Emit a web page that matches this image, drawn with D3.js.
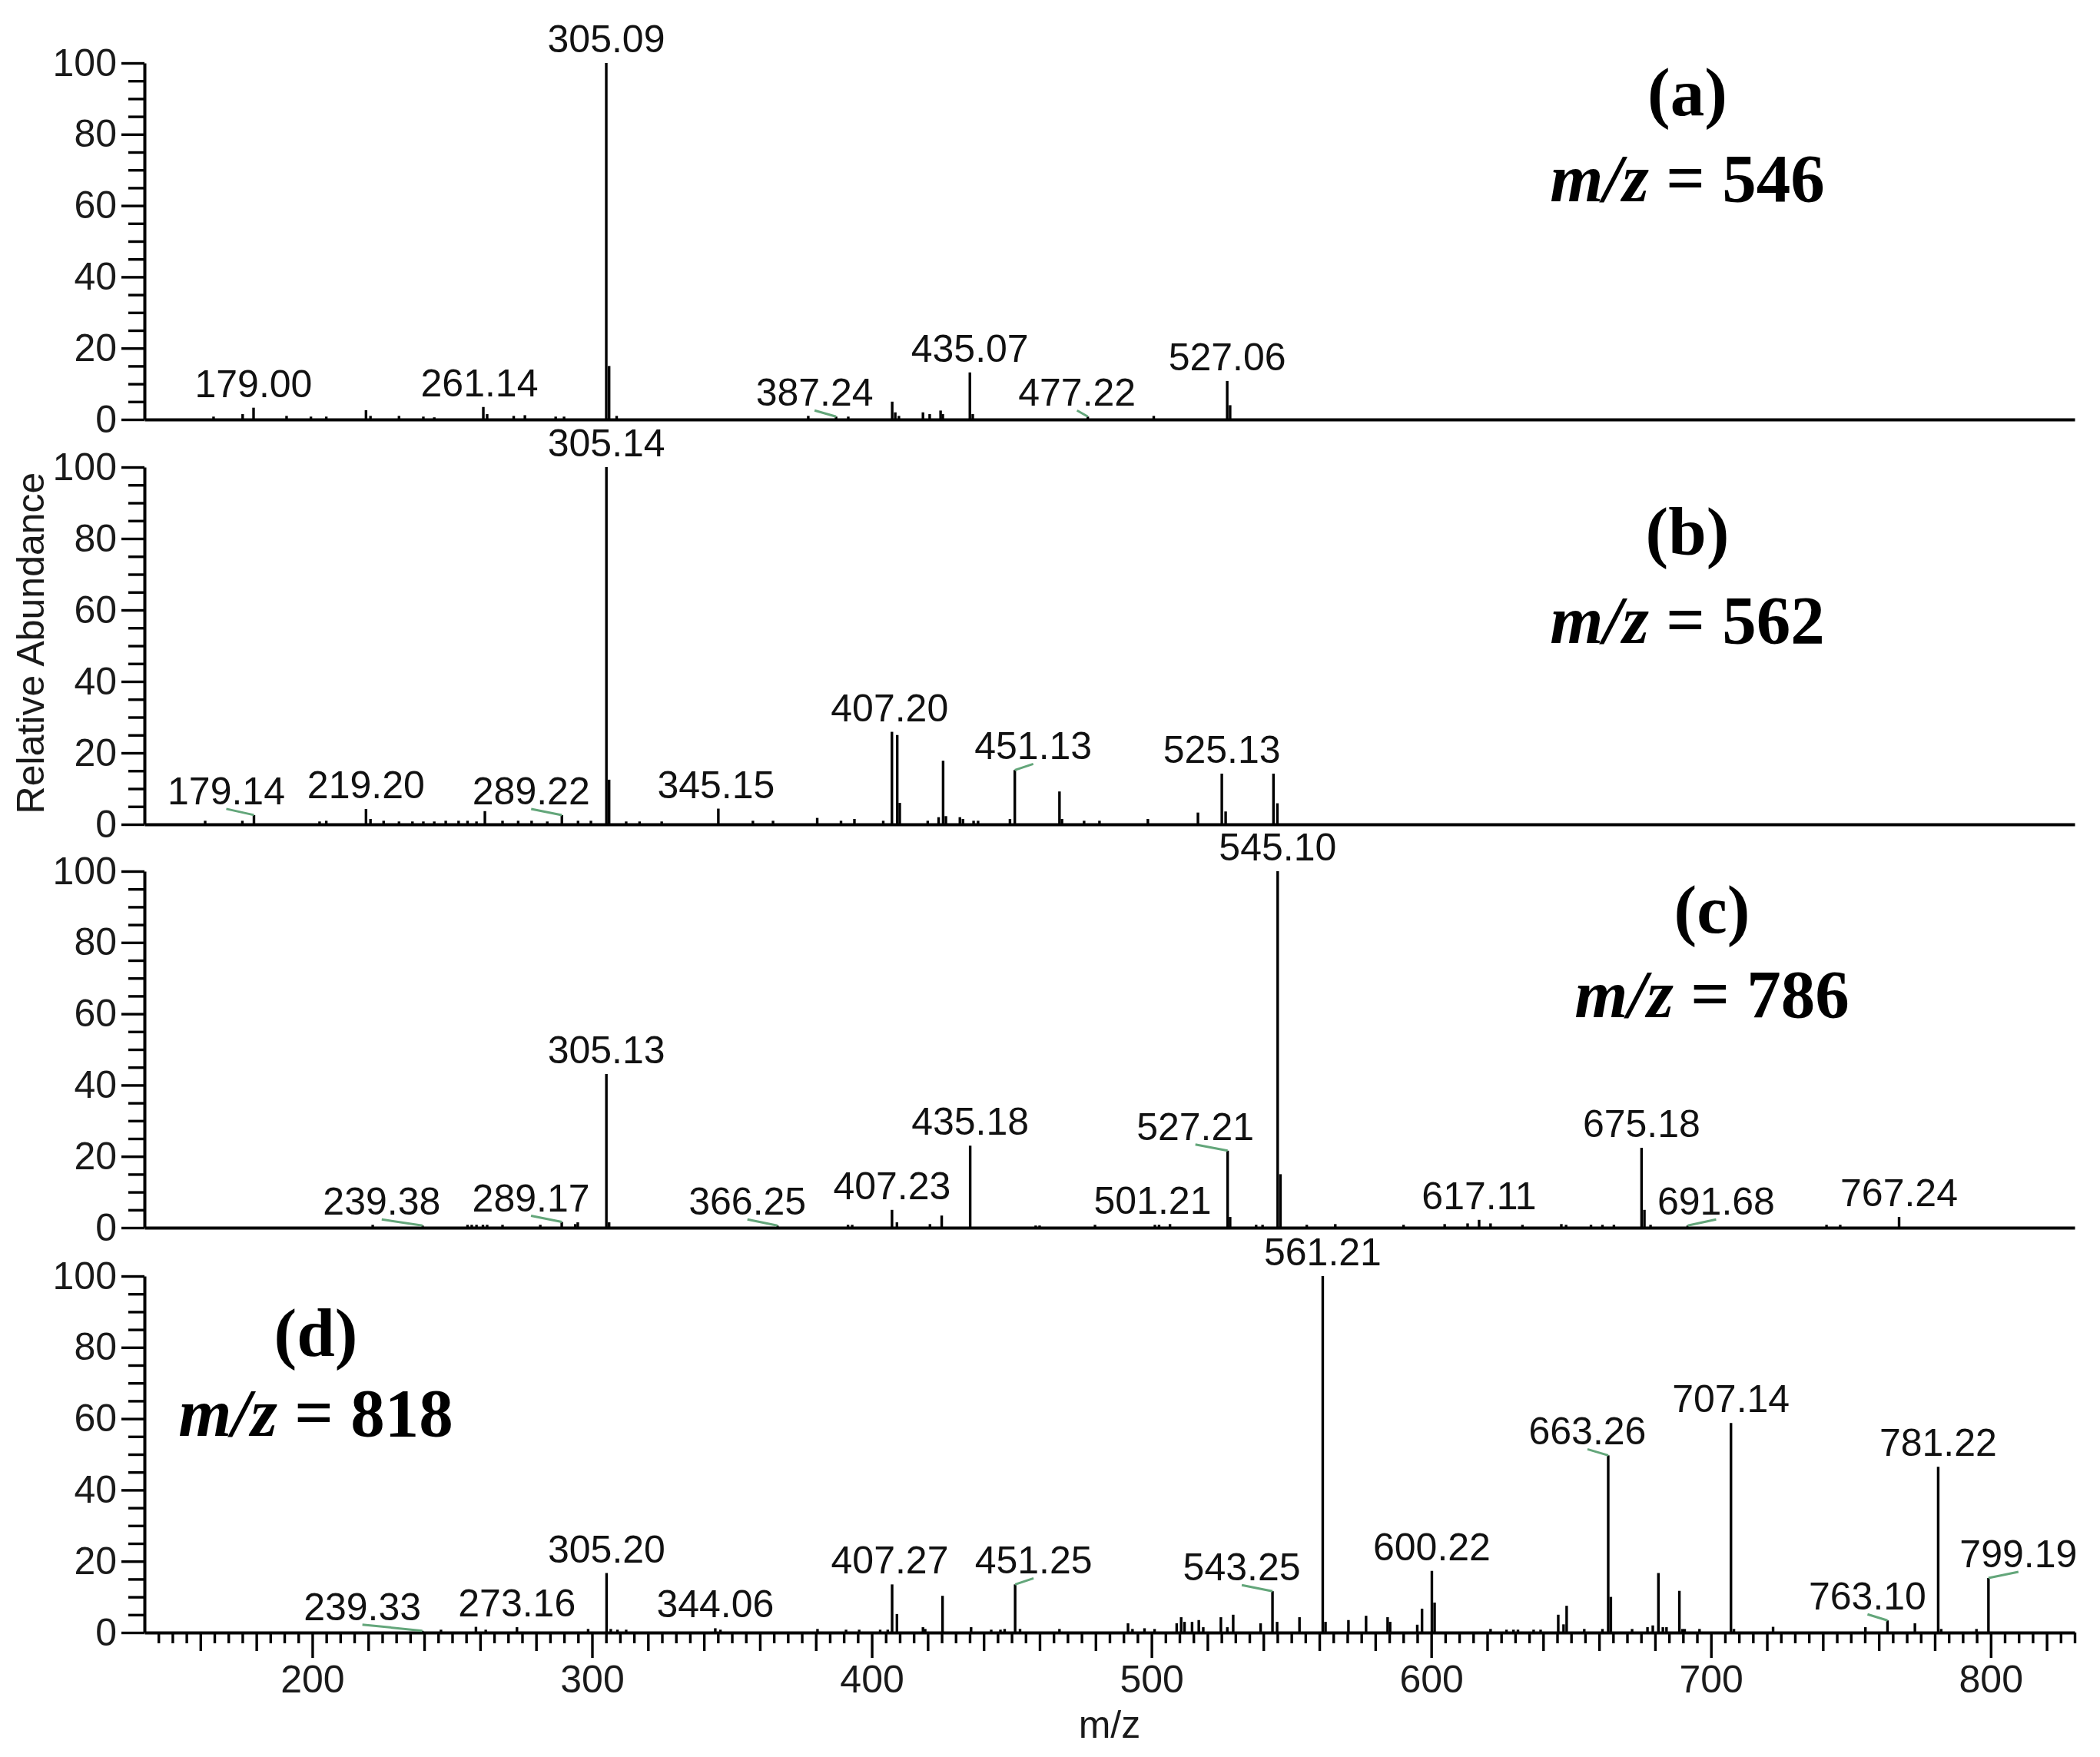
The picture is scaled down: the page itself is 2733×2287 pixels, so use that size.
<!DOCTYPE html>
<html><head><meta charset="utf-8">
<script src="https://cdn.jsdelivr.net/npm/d3@7"></script>
<style>body{margin:0;background:#fff}</style>
</head><body>
<svg id="chart" width="2733" height="2287"></svg>
<script>
// ---------------- DATA ----------------
const panelTags = ["(a)", "(b)", "(c)", "(d)"];
const precursorMz = ["546", "562", "786", "818"];
const yTickValues = [0, 20, 40, 60, 80, 100];
const xTickLabels = [200, 300, 400, 500, 600, 700, 800];
const xDomain = [140, 830];
const yAxisTitle = "Relative Abundance";
const xAxisTitle = "m/z";

// (a) m/z = 546
const mzA = [164.7,175.1,179.00,190.8,199.5,205.0,219.2,220.8,231.0,239.7,243.6,261.14,262.5,272.0,276.0,287.0,290.0,
  305.09,306.1,308.8,377.3,387.24,391.6,407.3,408.4,409.7,418.3,420.7,424.6,425.4,435.07,436.1,477.22,500.8,527.06,528.1];
const intA = [0.8,1.5,3.3,1.0,0.8,0.8,2.6,1.0,1.0,0.8,0.6,3.5,1.5,1.0,1.2,0.8,0.8,
  100,15,1.0,1.0,0.8,0.8,5.0,2.0,1.0,2.0,1.5,2.5,1.5,13.2,1.5,0.8,1.0,10.8,4.0];
const labelsA = [179.00,261.14,305.09,387.24,435.07,477.22,527.06];

// (b) m/z = 562
const mzB = [161.7,175.0,179.14,202.6,205.0,219.20,220.8,225.5,231.0,235.8,239.7,243.6,247.7,252.3,255.5,258.7,261.7,268.0,
  273.6,278.4,284.0,289.22,295.0,299.6,305.14,306.1,312.2,317.0,324.9,345.15,357.5,364.7,380.5,389.0,393.8,404.1,
  407.20,409.1,410.0,420.0,423.9,425.5,426.5,431.5,432.6,436.4,438.0,449.4,451.13,467.1,468.0,475.9,481.4,498.7,
  516.6,525.13,526.5,543.6,545.0];
const intB = [1.0,1.0,2.6,0.8,1.0,4.3,1.5,1.0,0.8,0.8,0.8,0.8,1.0,1.0,1.0,0.8,3.7,1.0,
  1.0,1.0,0.8,2.6,1.0,1.0,100,12.5,0.8,0.8,0.8,4.4,1.0,1.0,1.8,1.0,1.5,1.0,
  25.9,25.0,6.0,1.0,2.0,17.8,2.3,2.0,1.5,1.0,1.0,1.5,15.2,9.2,1.5,1.0,1.0,1.5,
  3.3,14.2,3.6,14.2,5.9];
const labelsB = [179.14,219.20,289.22,305.14,345.15,407.20,451.13,525.13];

// (c) m/z = 786
const mzC = [221.6,239.38,255.5,257.0,258.7,261.0,262.5,268.0,281.5,289.17,294.0,294.9,305.13,306.1,366.25,391.5,393.0,
  407.23,409.0,420.8,425.0,435.18,458.6,460.0,479.8,501.21,502.7,506.6,527.21,528.1,537.4,539.7,545.10,546.1,555.5,
  565.7,590.1,604.8,613.0,617.11,621.2,632.6,646.5,648.2,657.1,661.2,665.3,675.18,676.2,678.4,691.68,741.3,746.2,767.24];
const intC = [0.8,0.6,0.8,0.8,0.8,0.8,0.8,0.8,0.8,1.6,1.0,1.5,43.1,1.5,0.6,0.8,0.8,
  5.0,1.5,1.0,3.4,23.0,0.6,0.6,0.8,0.8,0.8,1.0,21.6,3.0,0.8,0.8,100,15,0.8,
  1.0,0.8,1.0,1.2,2.2,1.2,0.8,1.0,0.8,0.8,0.8,0.8,22.4,5.0,0.8,0.6,0.8,0.8,3.0];
const labelsC = [239.38,289.17,305.13,366.25,407.23,435.18,501.21,527.21,545.10,617.11,675.18,691.68,767.24];

// (d) m/z = 818
const mzD = [239.33,246.0,258.5,262.0,273.16,298.6,305.20,306.7,309.1,312.2,344.06,345.9,380.6,390.8,395.5,403.0,405.7,
  407.27,409.0,418.3,419.1,425.3,435.5,442.7,446.0,447.5,451.25,453.0,467.1,491.6,493.2,497.5,501.1,509.0,510.6,511.8,
  514.5,516.9,518.5,524.8,527.1,529.2,539.0,543.25,544.9,552.9,561.21,562.2,570.4,576.7,584.4,585.3,595.0,596.7,
  600.22,601.2,621.2,626.9,629.4,631.0,636.6,639.1,645.4,647.3,648.4,654.7,661.2,663.26,664.2,671.8,677.3,679.2,
  681.2,682.8,684.1,688.7,689.8,690.6,695.9,707.14,708.2,722.2,755.2,763.10,772.9,781.22,782.3,794.9,799.19];
const intD = [0.5,0.8,1.6,0.8,1.5,1.0,16.7,1.0,0.8,0.8,1.2,0.8,1.0,0.8,0.8,0.8,0.8,
  13.5,5.2,1.5,1.0,10.3,1.5,0.8,0.8,1.0,13.5,1.0,1.0,2.6,1.0,1.2,1.0,2.6,4.3,3.0,
  3.0,3.5,1.5,4.3,1.5,5.0,2.6,11.6,3.0,4.3,100,3.0,3.5,4.7,4.3,3.0,2.2,6.7,
  17.3,8.4,1.0,0.8,0.8,0.8,0.8,0.8,5.0,2.3,7.5,1.0,1.0,49.7,10.0,1.0,1.5,2.0,
  16.7,1.5,1.5,11.7,1.0,1.0,1.0,58.8,1.0,1.6,1.5,3.4,2.6,46.5,1.0,1.0,15.3];
const labelsD = [239.33,273.16,305.20,344.06,407.27,451.25,543.25,561.21,600.22,663.26,707.14,763.10,781.22,799.19];

// ---------------- LAYOUT / STYLE ----------------
const FONT = "'Liberation Sans', Arial, sans-serif";
const SERIF = "'Liberation Serif', 'Times New Roman', serif";
const plotLeft = 188, plotRight = 2700;
const panels = [
  {mz: mzA, it: intA, labels: labelsA, top: 82,   bottom: 546,  tagX: 2196, tagY: 150,  precY: 262},
  {mz: mzB, it: intB, labels: labelsB, top: 608,  bottom: 1073, tagX: 2196, tagY: 722,  precY: 837},
  {mz: mzC, it: intC, labels: labelsC, top: 1134, bottom: 1598, tagX: 2228, tagY: 1214, precY: 1324},
  {mz: mzD, it: intD, labels: labelsD, top: 1661, bottom: 2125, tagX: 411,  tagY: 1765, precY: 1869}
];
// horizontal label shifts (px) and whether a leader line is drawn
const labelShift = [
  {"261.14": [-5, false], "387.24": [-28, true], "477.22": [-14, true]},
  {"179.14": [-36, true], "289.22": [-40, true], "345.15": [-3, false], "407.20": [-3, false], "451.13": [24, true]},
  {"239.38": [-53, true], "289.17": [-40, true], "366.25": [-39, true], "501.21": [-3, false], "527.21": [-42, true], "691.68": [37, true]},
  {"239.33": [-78, true], "407.27": [-3, false], "451.25": [24, true], "543.25": [-40, true], "663.26": [-27, true], "763.10": [-26, true], "799.19": [39, true]}
];

const svg = d3.select("#chart");
svg.append("rect").attr("width", 2733).attr("height", 2287).attr("fill", "#fff");
const x = d3.scaleLinear().domain(xDomain).range([plotLeft, plotRight]);

panels.forEach((p, i) => {
  const y = d3.scaleLinear().domain([0, 100]).range([p.bottom, p.top]);
  const g = svg.append("g");

  // minor y ticks
  const minor = d3.range(0, 101, 5).filter(v => v % 20 !== 0);
  g.append("g").attr("transform", `translate(${plotLeft},0)`)
    .call(d3.axisLeft(y).tickValues(minor).tickSize(21).tickFormat("").tickSizeOuter(0))
    .call(a => a.select(".domain").remove())
    .call(a => a.selectAll("line").attr("stroke", "#000").attr("stroke-width", 3.4));
  // major y ticks + labels
  g.append("g").attr("transform", `translate(${plotLeft},0)`)
    .call(d3.axisLeft(y).tickValues(yTickValues).tickSize(30).tickPadding(6).tickSizeOuter(0))
    .call(a => a.select(".domain").attr("stroke", "#000").attr("stroke-width", 4))
    .call(a => a.selectAll("line").attr("stroke", "#000").attr("stroke-width", 3.4))
    .call(a => a.selectAll("text").attr("font-family", FONT).attr("font-size", 50).attr("fill", "#1a1a1a"));

  // x axis
  const xa = g.append("g").attr("transform", `translate(0,${p.bottom})`);
  if (i < 3) {
    xa.call(d3.axisBottom(x).tickValues([]).tickSizeOuter(0));
  } else {
    const small = d3.range(145, 831, 5).filter(v => v % 20 !== 0);
    const mid = d3.range(160, 831, 20).filter(v => v % 100 !== 0);
    xa.call(d3.axisBottom(x).tickValues(small).tickSize(14).tickFormat("").tickSizeOuter(0));
    xa.append("g").call(d3.axisBottom(x).tickValues(mid).tickSize(24).tickFormat("").tickSizeOuter(0))
      .call(a => a.select(".domain").remove());
    xa.append("g").call(d3.axisBottom(x).tickValues(xTickLabels).tickSize(33).tickPadding(9.5).tickSizeOuter(0))
      .call(a => a.select(".domain").remove())
      .call(a => a.selectAll("text").attr("font-family", FONT).attr("font-size", 50).attr("fill", "#1a1a1a"));
  }
  xa.select(".domain").attr("stroke", "#000").attr("stroke-width", 4);
  xa.selectAll("line").attr("stroke", "#000").attr("stroke-width", 3.4);

  // peaks
  const peaks = p.mz.map((m, k) => ({m, v: p.it[k]}));
  g.append("g").selectAll("line").data(peaks).join("line")
    .attr("x1", d => x(d.m)).attr("x2", d => x(d.m))
    .attr("y1", y(0)).attr("y2", d => y(d.v))
    .attr("stroke", "#000").attr("stroke-width", 3.4);

  // labels
  const lab = p.labels.map(m => {
    const k = p.mz.indexOf(m);
    const key = m.toFixed(2);
    const s = labelShift[i][key] || [0, false];
    return {m, v: p.it[k], text: key, dx: s[0], lead: s[1]};
  });
  g.append("g").selectAll("line").data(lab.filter(d => d.lead)).join("line")
    .attr("x1", d => x(d.m) + d.dx).attr("y1", d => y(d.v) - 8)
    .attr("x2", d => x(d.m)).attr("y2", d => y(d.v))
    .attr("stroke", "#63a67a").attr("stroke-width", 3);
  g.append("g").selectAll("text").data(lab).join("text")
    .attr("x", d => x(d.m) + d.dx).attr("y", d => y(d.v) - 14)
    .attr("text-anchor", "middle")
    .attr("font-family", FONT).attr("font-size", 50).attr("fill", "#111")
    .text(d => d.text);

  // panel tag and precursor
  g.append("text").attr("x", p.tagX).attr("y", p.tagY).attr("text-anchor", "middle")
    .attr("font-family", SERIF).attr("font-weight", "bold").attr("font-size", 89).attr("fill", "#000")
    .text(panelTags[i]);
  const t = g.append("text").attr("x", p.tagX).attr("y", p.precY).attr("text-anchor", "middle")
    .attr("font-family", SERIF).attr("font-weight", "bold").attr("font-size", 89).attr("fill", "#000");
  t.append("tspan").attr("font-style", "italic").text("m/z");
  t.append("tspan").text(" = " + precursorMz[i]);
});

// axis titles
svg.append("text").attr("transform", "translate(57,837) rotate(-90)").attr("text-anchor", "middle")
  .attr("font-family", FONT).attr("font-size", 50).attr("fill", "#1a1a1a").text(yAxisTitle);
svg.append("text").attr("x", 1444).attr("y", 2262).attr("text-anchor", "middle")
  .attr("font-family", FONT).attr("font-size", 50).attr("fill", "#1a1a1a").text(xAxisTitle);
</script>
</body></html>
